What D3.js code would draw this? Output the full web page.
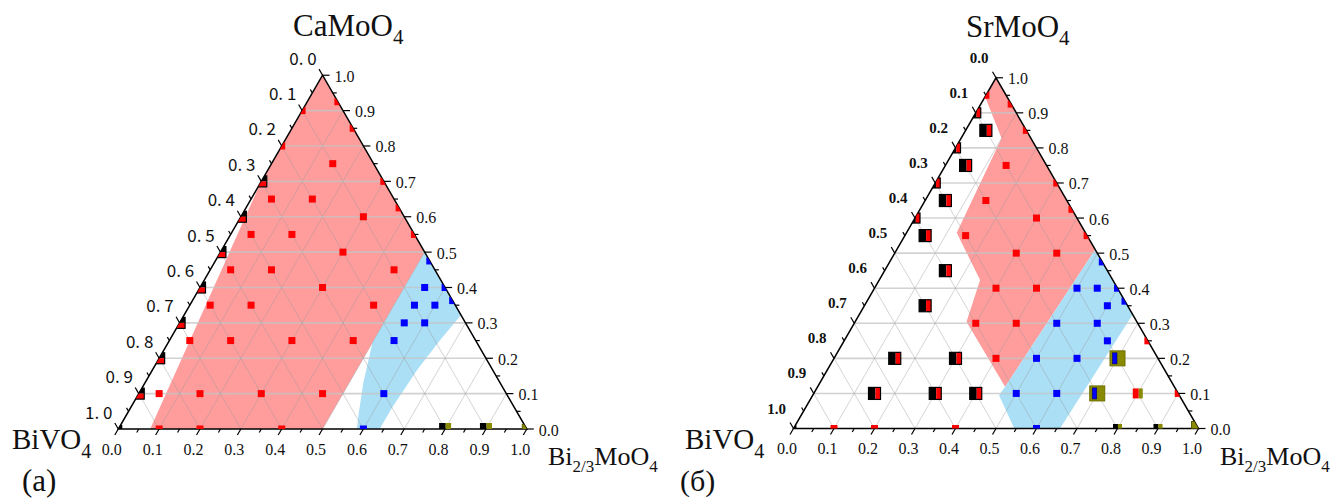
<!DOCTYPE html>
<html><head><meta charset="utf-8">
<script src="https://cdn.jsdelivr.net/npm/d3@7"></script>
<style>body{margin:0;background:#fff}svg{display:block}</style>
</head><body>
<svg id="chart" width="1340" height="499"></svg>
<script>
// Axis ticks (fractions) and their labels
const majorTicks = [0, 0.1, 0.2, 0.3, 0.4, 0.5, 0.6, 0.7, 0.8, 0.9, 1.0];
const minorTicks = [0.05, 0.15, 0.25, 0.35, 0.45, 0.55, 0.65, 0.75, 0.85, 0.95];
const tickLabels = ["0.0","0.1","0.2","0.3","0.4","0.5","0.6","0.7","0.8","0.9","1.0"];
const leftLabelsA = ["0. 0","0. 1","0. 2","0. 3","0. 4","0. 5","0. 6","0. 7","0. 8","0. 9","1. 0"];
const gridValues = [0.1, 0.2, 0.3, 0.4, 0.5, 0.6, 0.7, 0.8, 0.9];

// Compositions as [Bi2/3MoO4 fraction, AMoO4 fraction]; BiVO4 = remainder
// ---- (a) BiVO4 – CaMoO4 – Bi2/3MoO4
const redRegionA  = [[0,1],[0,0.70],[0.078,0],[0.5,0],[0.5,0.5]];
const blueRegionA = [[0.5,0.5],[0.678,0.322],[0.662,0.25],[0.648,0.167],[0.64,0.06],[0.64,0],
                     [0.584,0],[0.57,0.035],[0.535,0.129],[0.5,0.245]];
const redA = [[0,0.9],[0,0.8],[0.075,0.925],[0.15,0.85],[0.3,0.7],[0.375,0.625],[0.45,0.55],
              [0.15,0.75],[0.05,0.65],[0.15,0.65],[0.30,0.60],[0.05,0.55],[0.15,0.55],[0.30,0.50],
              [0.05,0.45],[0.15,0.45],[0.45,0.45],[0.30,0.40],[0.05,0.35],[0.15,0.35],[0.45,0.35],
              [0.05,0.25],[0.15,0.25],[0.30,0.25],[0.45,0.25],[0.05,0.10],[0.15,0.10],[0.30,0.10],
              [0.45,0.10],[0.10,0],[0.20,0],[0.40,0]];
const blueA = [[0.525,0.475],[0.6,0.4],[0.637,0.363],[0.55,0.40],[0.55,0.35],[0.60,0.35],
               [0.55,0.30],[0.60,0.30],[0.55,0.25],[0.60,0.10],[0.60,0]];
const blackRedA = [[0,0.7],[0,0.6],[0,0.5],[0,0.4],[0,0.3],[0,0.2],[0,0.1]];
const blackA = [[0,0]];
const blackOliveA = [[0.8,0],[0.9,0]];
const oliveA = [[1,0]];

// ---- (б) BiVO4 – SrMoO4 – Bi2/3MoO4
const redRegionB  = [[0,1],[0,0.946],[0.10,0.8275],[0.124,0.558],[0.249,0.4235],[0.275,0.3045],
                     [0.463,0.119],[0.49,0.51]];
const blueRegionB = [[0.49,0.51],[0.675,0.325],[0.658,0],[0.545,0],[0.46,0.095],[0.463,0.119]];
const redB = [[0,0.95],[0.075,0.925],[0.15,0.85],[0.3,0.7],[0.375,0.625],[0.45,0.55],[0.75,0.25],
              [0.9,0.1],[0.15,0.75],[0.15,0.65],[0.30,0.60],[0.15,0.55],[0.30,0.50],[0.40,0.50],
              [0.30,0.40],[0.40,0.40],[0.30,0.30],[0.40,0.30],[0.40,0.20],[0.1,0],[0.2,0],[0.4,0]];
const blueB = [[0.525,0.475],[0.6,0.4],[0.637,0.363],[0.50,0.40],[0.55,0.40],[0.60,0.35],
               [0.50,0.30],[0.60,0.30],[0.65,0.25],[0.50,0.20],[0.60,0.20],[0.50,0.10],
               [0.60,0.10],[0.60,0]];
const blackRedB = [[0.05,0.85],[0.05,0.75],[0.05,0.65],[0.05,0.55],[0.15,0.45],[0.15,0.35],
                   [0.15,0.20],[0.30,0.20],[0.15,0.10],[0.30,0.10],[0.40,0.10]];
const blackRedEdgeB = [[0,0.9],[0,0.8],[0,0.7],[0,0.6]];
const blueOliveB = [[0.70,0.20],[0.70,0.10]];
const redOliveB = [[0.80,0.10]];
const blackB = [[0,0]];
const blackOliveB = [[0.8,0],[0.9,0]];
const oliveB = [[1,0]];

const RED = "#ff0000", BLUE = "#0000ff", OLIVE = "#8a8a00", BLACK = "#000";
const REDFILL = "#ff9c9c", BLUEFILL = "#abdff6";
const SERIF = "'Liberation Serif','Times New Roman',serif";

const svg = d3.select("#chart");

const panels = [
  { key: "a", x0: 118.3, y0: 429, w: 408.5,
    top: ["CaMo","O","4"], topX: 293, topY: 36,
    redRegion: redRegionA, blueRegion: blueRegionA,
    leftLabels: leftLabelsA, leftFont: "'Noto Sans CJK JP','DejaVu Sans',sans-serif",
    leftSize: 17, leftWeight: "normal", leftOff: [-19.5, -18],
    markers: [
      {data: redA, type: "r", size: 7},
      {data: blueA, type: "b", size: 7},
      {data: blackRedA, type: "krv", size: 11},
      {data: blackA, type: "k", size: 8},
      {data: blackOliveA, type: "ko", size: 12},
      {data: oliveA, type: "o", size: 9}
    ],
    biX: 12, label: "(a)", labelX: 22, labelSize: 31, rightX: 548 },
  { key: "b", x0: 793.5, y0: 428.5, w: 405,
    top: ["SrMo","O","4"], topX: 966, topY: 37,
    redRegion: redRegionB, blueRegion: blueRegionB,
    leftLabels: tickLabels, leftFont: SERIF, leftSize: 15, leftWeight: "bold", leftOff: [-17, -20],
    markers: [
      {data: redB, type: "r", size: 7},
      {data: blueB, type: "b", size: 7},
      {data: blackRedB, type: "kr", size: 12},
      {data: blackRedEdgeB, type: "kr", size: 10},
      {data: blueOliveB, type: "bo", size: 15},
      {data: redOliveB, type: "ro", size: 10},
      {data: blackB, type: "k", size: 6},
      {data: blackOliveB, type: "ko", size: 9},
      {data: oliveB, type: "o", size: 14}
    ],
    biX: 685, label: "(б)", labelX: 680, labelSize: 30, rightX: 1220 }
];

panels.forEach(p => {
  const h = p.w * Math.sqrt(3) / 2;
  const xs = d3.scaleLinear().domain([0, 1]).range([p.x0, p.x0 + p.w]);
  const ys = d3.scaleLinear().domain([0, 1]).range([p.y0, p.y0 - h]);
  const pt = (b, c) => [xs(b + c / 2), ys(c)];
  const line = d3.line();
  const g = svg.append("g");

  const tri = [pt(0, 0), pt(1, 0), pt(0, 1)];
  const clipId = "clip-" + p.key;
  svg.append("clipPath").attr("id", clipId).append("path").attr("d", line(tri) + "Z");

  // phase regions
  g.append("path").attr("d", line(p.redRegion.map(d => pt(d[0], d[1]))) + "Z")
    .attr("fill", REDFILL).attr("clip-path", `url(#${clipId})`);
  g.append("path").attr("d", line(p.blueRegion.map(d => pt(d[0], d[1]))) + "Z")
    .attr("fill", BLUEFILL).attr("clip-path", `url(#${clipId})`);

  // grid
  const grid = g.append("g");
  gridValues.forEach(v => {
    grid.append("path").attr("d", line([pt(0, v), pt(1 - v, v)]))
      .attr("stroke", "#c4c4c4").attr("stroke-width", 1.6).attr("opacity", 0.75);
    grid.append("path").attr("d", line([pt(v, 0), pt(v, 1 - v)]))
      .attr("stroke", "#9a9a9a").attr("stroke-width", 0.6).attr("opacity", 0.7);
    grid.append("path").attr("d", line([pt(1 - v, 0), pt(0, 1 - v)]))
      .attr("stroke", "#9a9a9a").attr("stroke-width", 0.6).attr("opacity", 0.7);
  });

  // triangle frame
  g.append("path").attr("d", line(tri) + "Z").attr("fill", "none")
    .attr("stroke", "#000").attr("stroke-width", 1.5);

  // ticks
  const ticks = g.append("g").attr("stroke", "#000").attr("stroke-width", 1.2);
  const s3 = Math.sqrt(3) / 2;
  const drawTick = (v, len) => {
    let [x, y] = pt(v, 0);
    ticks.append("path").attr("d", line([[x, y], [x - 0.5 * len, y + s3 * len]]));
    [x, y] = pt(1 - v, v);
    ticks.append("path").attr("d", line([[x, y], [x + len, y]]));
    [x, y] = pt(0, 1 - v);
    ticks.append("path").attr("d", line([[x, y], [x - 0.5 * len, y - s3 * len]]));
  };
  majorTicks.forEach(v => drawTick(v, 7));
  minorTicks.forEach(v => drawTick(v, 4));

  // tick labels
  const tl = g.append("g").attr("font-family", SERIF).attr("font-size", 16).attr("fill", "#111");
  majorTicks.forEach((v, i) => {
    let [x, y] = pt(v, 0);
    tl.append("text").attr("x", x - 6.5).attr("y", y + 20).attr("text-anchor", "middle")
      .attr("dominant-baseline", "central").text(tickLabels[i]);
    [x, y] = pt(1 - v, v);
    tl.append("text").attr("x", x + 12).attr("y", y + 1).attr("dominant-baseline", "central")
      .text(tickLabels[i]);
    [x, y] = pt(0, 1 - v);
    g.append("text").attr("x", x + p.leftOff[0]).attr("y", y + p.leftOff[1])
      .attr("text-anchor", "middle").attr("dominant-baseline", "central")
      .attr("font-family", p.leftFont).attr("font-size", p.leftSize)
      .attr("font-weight", p.leftWeight).attr("fill", "#111").text(p.leftLabels[i]);
  });

  // markers
  const mk = g.append("g").attr("clip-path", `url(#${clipId})`);
  const rect = (sel, x, y, w, hh, fill, stroke, sw) => {
    const r = sel.append("rect").attr("x", x).attr("y", y).attr("width", w).attr("height", hh)
      .attr("fill", fill);
    if (stroke) r.attr("stroke", stroke).attr("stroke-width", sw);
  };
  p.markers.forEach(set => {
    set.data.forEach(d => {
      const [x, y] = pt(d[0], d[1]);
      const s = set.size, hs = s / 2;
      const m = mk.append("g");
      switch (set.type) {
        case "r": rect(m, x - hs, y - hs, s, s, RED); break;
        case "b": rect(m, x - hs, y - hs, s, s, BLUE); break;
        case "k": rect(m, x - hs, y - hs, s, s, BLACK); break;
        case "o": rect(m, x - hs, y - hs, s, s, OLIVE, "#5c5c00", 1); break;
        case "kr":
          rect(m, x - hs, y - hs, s * 0.58, s, BLACK);
          rect(m, x - hs + s * 0.58, y - hs, s * 0.42, s, RED);
          rect(m, x - hs, y - hs, s, s, "none", BLACK, 1.2);
          break;
        case "krv":
          rect(m, x - hs, y - hs, s, hs, BLACK);
          rect(m, x - hs, y, s, hs, RED);
          rect(m, x - hs, y - hs, s, s, "none", BLACK, 1.2);
          break;
        case "ko":
          rect(m, x - hs, y - hs, s * 0.55, s, BLACK);
          rect(m, x - hs + s * 0.55, y - hs, s * 0.45, s, OLIVE);
          break;
        case "ro":
          rect(m, x - hs, y - hs, s * 0.6, s, RED);
          rect(m, x - hs + s * 0.6, y - hs, s * 0.4, s, OLIVE);
          break;
        case "bo":
          rect(m, x - hs, y - hs, s, s, OLIVE, "#6f6f00", 1);
          rect(m, x - hs + 2.5, y - hs + 2, s * 0.3, s - 4, BLUE, "#000066", 0.6);
          break;
      }
    });
  });

  // component names
  const tt = svg.append("text").attr("x", p.topX).attr("y", p.topY)
    .attr("font-family", SERIF).attr("font-size", 31).attr("fill", "#111");
  tt.append("tspan").text(p.top[0] + p.top[1]);
  tt.append("tspan").attr("font-size", 21).attr("dy", 8).text(p.top[2]);

  const bl = svg.append("text").attr("x", p.biX).attr("y", 449)
    .attr("font-family", SERIF).attr("font-size", 29).attr("fill", "#111");
  bl.append("tspan").text("BiVO");
  bl.append("tspan").attr("font-size", 20).attr("dy", 9).text("4");

  const br = svg.append("text").attr("x", p.rightX).attr("y", 465)
    .attr("font-family", SERIF).attr("font-size", 26).attr("fill", "#111");
  br.append("tspan").text("Bi");
  br.append("tspan").attr("font-size", 17).attr("dy", 7).text("2/3");
  br.append("tspan").attr("dy", -7).text("MoO");
  br.append("tspan").attr("font-size", 17).attr("dy", 7).text("4");

  svg.append("text").attr("x", p.labelX).attr("y", 491)
    .attr("font-family", SERIF).attr("font-size", p.labelSize).attr("fill", "#111").text(p.label);
});
</script>
</body></html>
